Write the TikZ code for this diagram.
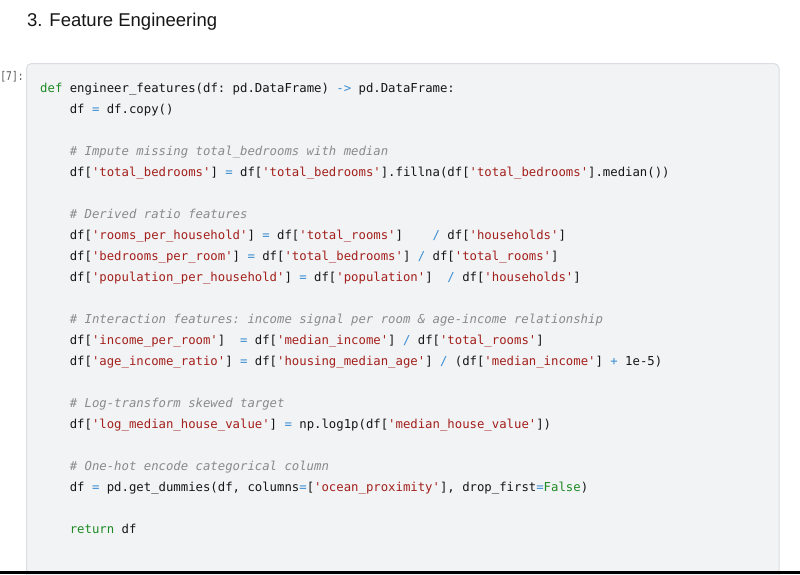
\documentclass[tikz,border=0pt]{standalone}
\usepackage{fontspec}
\setmainfont{Liberation Sans}
\newfontfamily\codefont{DejaVu Sans Mono}[ItalicFont={DejaVu Sans Mono Oblique}]
\definecolor{txtc}{HTML}{161616}
\definecolor{strc}{HTML}{A3201C}
\definecolor{opc}{HTML}{3A8DD3}
\definecolor{kwc}{HTML}{1E8A24}
\definecolor{cmc}{HTML}{8A8A8A}
\definecolor{boxc}{HTML}{F2F3F5}
\definecolor{borderc}{HTML}{DADDE1}
\definecolor{promptc}{HTML}{555555}
\newcommand\Qt{\char"27\relax}
\newcommand\cs[1]{\textcolor{strc}{\Qt#1\Qt}}
\newcommand\co[1]{\textcolor{opc}{#1}}
\newcommand\ck[1]{\textcolor{kwc}{#1}}
\newcommand\cc[1]{\textcolor{cmc}{\itshape #1}}
\tikzset{
  codeline/.style={anchor=base west, inner sep=0pt, text=txtc, font={\codefont\fontsize{12.3}{14}\selectfont\frenchspacing}},
  titletext/.style={anchor=base west, inner sep=0pt, text=txtc, font={\fontsize{18.5}{22}\selectfont}},
  prompttext/.style={anchor=base west, inner sep=0pt, text=promptc, xscale=0.8, transform shape, font={\codefont\fontsize{12}{14}\selectfont}},
  cellbox/.style={fill=boxc, draw=borderc, line width=1pt, rounded corners=5pt}
}
\begin{document}
\begin{tikzpicture}[x=1pt,y=-1pt]
\useasboundingbox (0,0) rectangle (800,574);
\clip (0,0) rectangle (800,574);
\fill[white] (0,0) rectangle (800,574);
\node[titletext] (title) at (27,26.5) {3. Feature Engineering};
\draw[cellbox] (26.5,63.5) rectangle (779,600);
\node[prompttext] (prompt) at (0.3,80.5) {[7]:};
\def\xa{40}
\def\xb{69.6}
\node[codeline] (l1) at (\xa,92) {\ck{def} engineer\_features(df: pd.DataFrame) \co{->} pd.DataFrame:};
\node[codeline] (l2) at (\xb,113) {df \co{=} df.copy()};
\node[codeline] (l4) at (\xb,155) {\cc{\# Impute missing total\_bedrooms with median}};
\node[codeline] (l5) at (\xb,176) {df[\cs{total\_bedrooms}] \co{=} df[\cs{total\_bedrooms}].fillna(df[\cs{total\_bedrooms}].median())};
\node[codeline] (l7) at (\xb,218) {\cc{\# Derived ratio features}};
\node[codeline] (l8) at (\xb,239) {df[\cs{rooms\_per\_household}] \co{=} df[\cs{total\_rooms}]~~~~\co{/} df[\cs{households}]};
\node[codeline] (l9) at (\xb,260) {df[\cs{bedrooms\_per\_room}] \co{=} df[\cs{total\_bedrooms}] \co{/} df[\cs{total\_rooms}]};
\node[codeline] (l10) at (\xb,281) {df[\cs{population\_per\_household}] \co{=} df[\cs{population}]~~\co{/} df[\cs{households}]};
\node[codeline] (l12) at (\xb,323) {\cc{\# Interaction features: income signal per room \& age-income relationship}};
\node[codeline] (l13) at (\xb,344) {df[\cs{income\_per\_room}]~~\co{=} df[\cs{median\_income}] \co{/} df[\cs{total\_rooms}]};
\node[codeline] (l14) at (\xb,365) {df[\cs{age\_income\_ratio}] \co{=} df[\cs{housing\_median\_age}] \co{/} (df[\cs{median\_income}] \co{+} 1e-5)};
\node[codeline] (l16) at (\xb,407) {\cc{\# Log-transform skewed target}};
\node[codeline] (l17) at (\xb,428) {df[\cs{log\_median\_house\_value}] \co{=} np.log1p(df[\cs{median\_house\_value}])};
\node[codeline] (l19) at (\xb,470) {\cc{\# One-hot encode categorical column}};
\node[codeline] (l20) at (\xb,491) {df \co{=} pd.get\_dummies(df, columns\co{=}[\cs{ocean\_proximity}], drop\_first\co{=}\ck{False})};
\node[codeline] (l22) at (\xb,533) {\ck{return} df};
\fill[black] (0,571) rectangle (800,574);
\end{tikzpicture}
\end{document}
